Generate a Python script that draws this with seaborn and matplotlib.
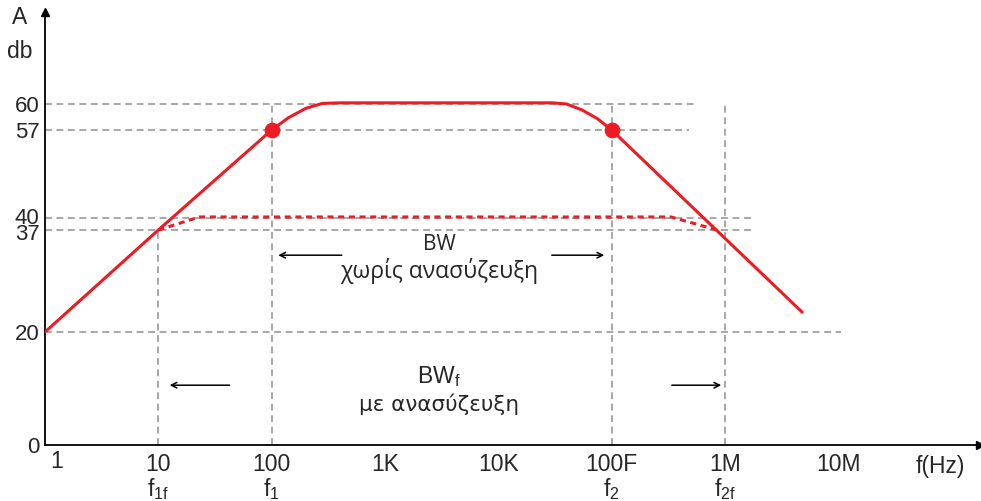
import numpy as np
import pandas as pd
import matplotlib
matplotlib.use("Agg")
import matplotlib.pyplot as plt
import matplotlib.transforms as mtrans
import seaborn as sns

# ---- data ----
freq_open = [1, 10, 100, 140, 200, 280, 400, 30000, 40000, 55000, 75000, 100000, 4.8e6]
gain_open = [20, 37, 57, 58.4, 59.5, 60.1, 60.2, 60.2, 60.0, 59.3, 58.3, 57, 23.3]
freq_fb = [10, 23, 335000, 850000]
gain_fb = [37, 40.2, 40.2, 37]
freq_pts = [100, 100000]
gain_pts = [57, 57]

xtick_vals = [10, 100, 1e3, 1e4, 1e5, 1e6, 1e7]
xtick_labels = ["10", "100", "1K", "10K", "100F", "1M", "10M"]
ytick_vals = [0, 10, 20, 37, 40, 57, 60]
ytick_labels = ["0", "", "20", "37", "40", "57", "60"]

# guide lines: (level, x_end)
hguides = [(60, 5.3e5), (57, 4.8e5), (40, 1.7e6), (37, 1.8e6), (20, 1.05e7)]
vguides = [(10, 37), (100, 60), (1e5, 60), (1e6, 60)]
freq_marks = [(10, "f$_{1f}$"), (100, "f$_1$"), (1e5, "f$_2$"), (1e6, "f$_{2f}$")]

# schematic (non-uniform) gain axis as drawn in the figure
axis_vals = np.array([0, 10, 20, 37, 40, 57, 60, 76])
axis_pos = np.array([0, 57, 113, 215, 227, 315, 341, 433], dtype=float)


def fwd(v):
    return np.interp(v, axis_vals, axis_pos)


def inv(p):
    return np.interp(p, axis_pos, axis_vals)


sns.set_style("white")
plt.rcParams["font.family"] = ["Liberation Sans", "DejaVu Sans"]
plt.rcParams["mathtext.fontset"] = "custom"
plt.rcParams["mathtext.rm"] = "Liberation Sans"
plt.rcParams["mathtext.it"] = "Liberation Sans"
plt.rcParams["mathtext.default"] = "regular"

W, H = 981, 501
fig = plt.figure(figsize=(W / 100, H / 100), dpi=100)
ax = fig.add_axes([45 / W, (H - 445) / H, (980 - 45) / W, (445 - 12) / H])
ax.set_xscale("log")
ax.set_yscale("function", functions=(fwd, inv))
ax.set_xlim(1, 10 ** 8.25)
ax.set_ylim(0, 76)

red = "#ED1C24"
grey = "#909090"
dash = (0, (4.5, 3))

for lvl, xe in hguides:
    ax.plot([1, xe], [lvl, lvl], color=grey, lw=1.1, ls=dash, zorder=1)
for xv, top in vguides:
    ax.plot([xv, xv], [0, top], color=grey, lw=1.1, ls=dash, zorder=1)

df_open = pd.DataFrame({"f": freq_open, "A": gain_open})
df_fb = pd.DataFrame({"f": freq_fb, "A": gain_fb})
df_pts = pd.DataFrame({"f": freq_pts, "A": gain_pts})
sns.lineplot(data=df_open, x="f", y="A", ax=ax, color=red, lw=2.2, sort=False,
             estimator=None, zorder=3)
sns.lineplot(data=df_fb, x="f", y="A", ax=ax, color=red, lw=2.2, sort=False,
             estimator=None, zorder=3, ls=(0, (2, 1.5)))
sns.scatterplot(data=df_pts, x="f", y="A", ax=ax, color=red, s=110,
                edgecolor=red, zorder=4)

# spines & arrows
for s in ["top", "right"]:
    ax.spines[s].set_visible(False)
for s in ["left", "bottom"]:
    ax.spines[s].set_linewidth(1.3)
    ax.spines[s].set_color("black")
ax.plot(1, 0, ">", color="black", ms=6, transform=ax.transAxes, clip_on=False)
ax.plot(0, 1, "^", color="black", ms=6, transform=ax.transAxes, clip_on=False)

ax.set_xticks(xtick_vals)
ax.set_xticklabels(xtick_labels)
ax.minorticks_off()
ax.set_yticks(ytick_vals)
ax.set_yticklabels(ytick_labels)
ax.tick_params(axis="x", direction="in", length=9, width=1.2, labelsize=16.5, pad=6)
ax.tick_params(axis="y", direction="in", length=9, width=1.2, labelsize=16, pad=4)
ax.set_xlabel("")
ax.set_ylabel("")

# nudge the close 37 / 40 labels slightly apart
ylabs = ax.get_yticklabels()
for lab, dy in ((ylabs[3], -1.5), (ylabs[4], 1.5)):
    lab.set_transform(lab.get_transform() +
                      mtrans.ScaledTranslation(0, dy / 72, fig.dpi_scale_trans))

# arrows
arr = dict(arrowstyle="->", color="black", lw=1.1)
ax.annotate("", xy=(108, 32.8), xytext=(440, 32.8), arrowprops=arr)
ax.annotate("", xy=(91000, 32.8), xytext=(28000, 32.8), arrowprops=arr)
ax.annotate("", xy=(11.9, 10.5), xytext=(45, 10.5), arrowprops=arr)
ax.annotate("", xy=(980000, 10.5), xytext=(321000, 10.5), arrowprops=arr)

ax.text(3000, 34.6, "BW", ha="center", va="center", fontsize=15,
        family=["Open Sans", "DejaVu Sans"])
ax.text(3000, 30.2, "χωρίς ανασύζευξη", ha="center", va="center", fontsize=16.5,
        family=["Open Sans", "DejaVu Sans"])
ax.text(3000, 12.1, "BW$_f$", ha="center", va="center", fontsize=16.5)
ax.text(3000, 7.2, "με ανασύζευξη", ha="center", va="center", fontsize=15.5,
        family=["DejaVu Sans"])

# outer labels
fig.text(57 / W, 1 - 462 / H, "1", ha="center", va="center", fontsize=16.5)
fig.text(20 / W, 1 - 18 / H, "A", ha="center", va="center", fontsize=16.5)
fig.text(20 / W, 1 - 52 / H, "db", ha="center", va="center", fontsize=16.5)
fig.text(940 / W, 1 - 466 / H, "f(Hz)", ha="center", va="center", fontsize=16.5)
for xv, lab in freq_marks:
    xd = ax.transData.transform((xv, 0))[0]
    fig.text(xd / W, 1 - 489 / H, lab, ha="center", va="center", fontsize=16.5)

fig.savefig("out.png", dpi=100)
